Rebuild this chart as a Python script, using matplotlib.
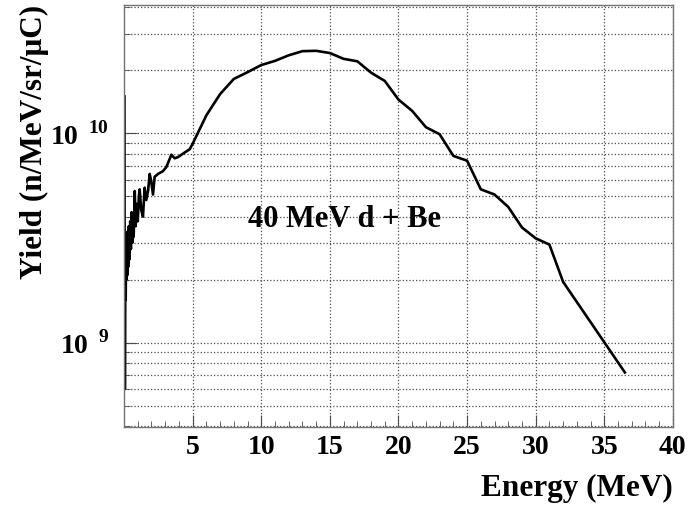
import numpy as np
import matplotlib
matplotlib.use('Agg')
import matplotlib.pyplot as plt
from matplotlib.ticker import FixedLocator, NullFormatter

plt.rcParams['font.family'] = ['Liberation Serif', 'DejaVu Serif']
plt.rcParams['font.weight'] = 'bold'
plt.rcParams['mathtext.fontset'] = 'custom'
plt.rcParams['mathtext.rm'] = 'Liberation Serif:bold'
plt.rcParams['mathtext.bf'] = 'Liberation Serif:bold'

# neutron yield spectrum, 40 MeV d + Be
energy = [0.03, 0.06, 0.09, 0.12, 0.15, 0.18, 0.21, 0.24, 0.27, 0.30,
          0.35, 0.40, 0.45, 0.50, 0.55, 0.60, 0.65, 0.70, 0.78, 0.85,
          0.92, 1.00, 1.08, 1.14, 1.25, 1.38, 1.50, 1.62, 1.75, 1.87,
          1.98, 2.11, 2.23, 2.48, 2.84, 3.08, 3.45, 3.69, 3.93, 4.42,
          4.79, 5.03, 6, 7, 8, 9, 10, 11, 12, 13,
          14, 15, 16, 17, 18, 19, 20, 21, 22, 23,
          24, 25, 26, 27, 28, 29, 30, 31, 32, 36.5]
yld = [1.5e10, 6.0e8, 2.4e9, 1.6e9, 3.0e9, 2.0e9, 3.2e9, 2.1e9, 3.4e9, 2.3e9,
       3.6e9, 2.5e9, 3.8e9, 2.8e9, 4.2e9, 3.0e9, 4.0e9, 3.2e9, 5.3e9, 3.6e9,
       4.6e9, 3.8e9, 5.0e9, 5.4e9, 4.3e9, 4.0e9, 5.5e9, 4.8e9, 5.3e9, 6.4e9,
       5.9e9, 5.1e9, 6.2e9, 6.4e9, 6.6e9, 6.9e9, 7.9e9, 7.6e9, 7.7e9, 8.1e9,
       8.4e9, 9.0e9, 1.22e10, 1.54e10, 1.82e10, 1.96e10, 2.12e10, 2.22e10, 2.36e10, 2.47e10,
       2.48e10, 2.42e10, 2.27e10, 2.21e10, 1.95e10, 1.78e10, 1.45e10, 1.28e10, 1.07e10, 9.9e9,
       7.8e9, 7.4e9, 5.4e9, 5.1e9, 4.45e9, 3.55e9, 3.15e9, 2.94e9, 1.95e9, 7.2e8]

xticks = [5, 10, 15, 20, 25, 30, 35, 40]
yticks = [1e9, 1e10]
ytick_labels = [r'$10^{\ \,9}$', r'$10^{\ \,10}$']
yminor = [m * 10.0**d for d in (8, 9, 10) for m in range(2, 10)]

fig = plt.figure(figsize=(6.93, 5.12), dpi=100)
ax = fig.add_axes([0.179, 0.166, 0.792, 0.824])

ax.plot(energy, yld, color='black', lw=1.9)

ax.set_yscale('log')
ax.set_xlim(0, 40)
ax.set_ylim(3.95e8, 4.1e10)

ax.xaxis.set_major_locator(FixedLocator(xticks))
ax.xaxis.set_minor_locator(FixedLocator(np.arange(1, 40)))
ax.set_xticklabels([str(t) for t in xticks])
ax.yaxis.set_major_locator(FixedLocator(yticks))
ax.yaxis.set_minor_locator(FixedLocator(yminor))
ax.set_yticklabels(ytick_labels)
ax.yaxis.set_minor_formatter(NullFormatter())

ax.tick_params(which='both', direction='in', top=False, right=False,
               labelsize=20, color='0.3')
ax.tick_params(axis='x', which='major', length=9, pad=6)
ax.tick_params(axis='x', which='minor', length=4.5)
ax.tick_params(axis='y', which='major', length=9, pad=11)
ax.tick_params(axis='y', which='minor', length=4.5)

ax.grid(True, which='major', axis='x', ls=':', color='0.3', lw=0.9)
ax.grid(True, which='both', axis='y', ls=':', color='0.3', lw=0.9)

for sp in ax.spines.values():
    sp.set_color('0.45')
    sp.set_linewidth(1.0)

ax.set_xlabel('Energy (MeV)', fontsize=22.5, fontweight='bold', loc='right', labelpad=10)
ax.set_ylabel('Yield (n/MeV/sr/\u03bcC)', fontsize=22.5, fontweight='bold', loc='top', labelpad=1)

ax.text(9.0, 3.55e9, '40 MeV d + Be', fontsize=22, fontweight='bold',
        ha='left', va='baseline')

fig.savefig('out.png', dpi=100)
